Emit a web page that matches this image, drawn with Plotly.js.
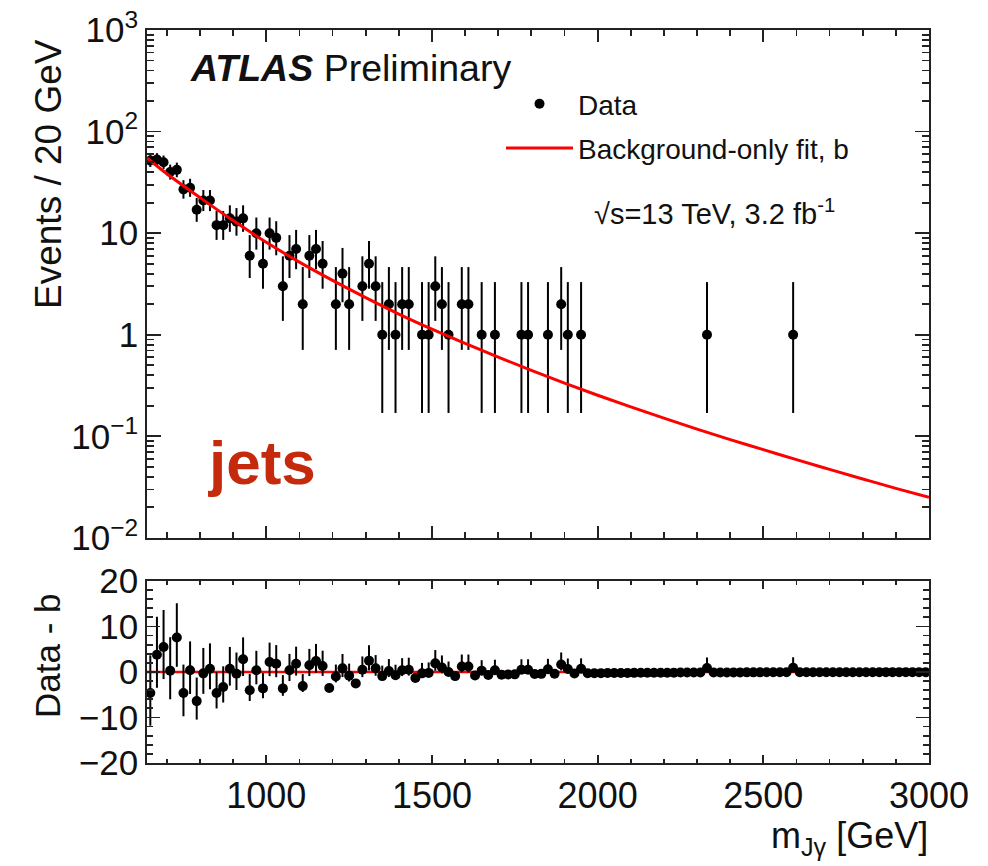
<!DOCTYPE html>
<html><head><meta charset="utf-8">
<script src="https://cdn.plot.ly/plotly-3.0.1.min.js"></script>
<style>body{margin:0;background:#fff}#chart{width:988px;height:866px}</style>
</head><body><div id="chart"></div>
<script>
// Bin centres (20 GeV bins, 640 - 3000 GeV)
const binCenters = [650,670,690,710,730,750,770,790,810,830,850,870,890,910,930,950,970,990,
1010,1030,1050,1070,1090,1110,1130,1150,1170,1190,1210,1230,1250,1270,1290,1310,1330,1350,1370,1390,
1410,1430,1450,1470,1490,1510,1530,1550,1570,1590,1610,1630,1650,1670,1690,1710,1730,1750,1770,1790,
1810,1830,1850,1870,1890,1910,1930,1950,1970,1990,2010,2030,2050,2070,2090,2110,2130,2150,2170,2190,
2210,2230,2250,2270,2290,2310,2330,2350,2370,2390,2410,2430,2450,2470,2490,2510,2530,2550,2570,2590,
2610,2630,2650,2670,2690,2710,2730,2750,2770,2790,2810,2830,2850,2870,2890,2910,2930,2950,2970,2990];

// Observed events per bin
const counts = [52,53,50,40,42,27,28,17,21,21,12,12,14,13,14,6,10,5,
10,9,3,6,7,2,6,7,5,0,2,4,2,0,3,5,3,1,2,1,
2,2,0,1,1,3,2,1,0,2,2,0,1,0,1,0,0,0,1,1,
0,0,1,0,2,1,0,1,0,0,0,0,0,0,0,0,0,0,0,0,
0,0,0,0,0,0,1,0,0,0,0,0,0,0,0,0,0,0,0,1,
0,0,0,0,0,0,0,0,0,0,0,0,0,0,0,0,0,0,0,0];

// Data - b per bin (lower panel)
const residuals = [-4.6,3.8,5.5,0.3,7.6,-4.6,0.4,-6.4,-0.3,0.7,-4.6,-3.3,0.7,-0.4,2.8,-4.0,0.4,-3.6,
2.2,1.8,-3.6,0.4,1.8,-3.1,1.5,2.4,1.3,-3.5,-1.0,0.8,-0.8,-2.5,0.5,2.5,0.8,-0.9,0.2,-0.7,
0.4,0.5,-1.3,-0.3,-0.2,1.9,1.0,0.0,-0.9,1.2,1.2,-0.75,0.3,-0.66,0.4,-0.58,-0.55,-0.52,0.5,0.5,
-0.43,-0.41,0.6,-0.37,1.65,0.67,-0.31,0.7,-0.28,-0.26,-0.25,-0.23,-0.22,-0.21,-0.20,-0.19,-0.18,-0.17,-0.16,-0.16,
-0.15,-0.14,-0.13,-0.13,-0.12,-0.12,0.89,-0.11,-0.10,-0.10,-0.09,-0.09,-0.08,-0.08,-0.08,-0.07,-0.07,-0.07,-0.06,0.94,
-0.06,-0.06,-0.05,-0.05,-0.05,-0.05,-0.04,-0.04,-0.04,-0.04,-0.04,-0.04,-0.03,-0.03,-0.03,-0.03,-0.03,-0.03,-0.03,-0.03];

// Poisson (Garwood) interval half-widths by observed count
const countLevels = [1,2,3,4,5,6,7,9,10,12,13,14,17,21,27,28,40,42,50,52,53];
const errUpLevels = [2.30,2.64,2.92,3.16,3.38,3.58,3.77,4.11,4.26,4.55,4.68,4.81,5.18,5.59,6.23,6.32,7.35,7.51,8.13,8.27,8.34];
const errDnLevels = [0.83,1.29,1.63,1.91,2.16,2.38,2.58,2.94,3.11,3.41,3.55,3.69,4.06,4.50,5.13,5.23,6.30,6.46,7.06,7.20,7.27];

// Background-only fit
const fitMass = [640,700,800,900,1000,1100,1200,1300,1400,1500,1600,1700,1800,1900,2000,2100,2200,2300,2400,2500,2600,2700,2800,2900,3000];
const fitValues = [55.0,38.5,22.4,13.3,8.13,5.19,3.43,2.32,1.60,1.135,0.822,0.603,0.447,0.335,0.254,0.195,0.151,0.118,0.093,0.074,0.059,0.0473,0.0381,0.0308,0.0251];

const yTickVals = [0.01,0.1,1,10,100,1000];
const yTickText = ['10<sup>−2</sup>','10<sup>−1</sup>','1','10','10<sup>2</sup>','10<sup>3</sup>'];
const ratioTickVals = [-20,-10,0,10,20];

function errUp(n){ const i = countLevels.indexOf(n); return i < 0 ? 0 : errUpLevels[i]; }
function errDn(n){ const i = countLevels.indexOf(n); return i < 0 ? 0 : errDnLevels[i]; }

const nzIdx = binCenters.map((_, i) => i).filter(i => counts[i] > 0);
const FONT = 'Liberation Sans, Arial, Helvetica, sans-serif';
const INK = '#222';

const traces = [
  { x: nzIdx.map(i => binCenters[i]), y: nzIdx.map(i => counts[i]),
    type: 'scatter', mode: 'markers', name: 'Data', xaxis: 'x', yaxis: 'y',
    marker: { color: 'black', size: 10 }, legendrank: 1, legendgroup: 'd',
    error_y: { type: 'data', symmetric: false, array: nzIdx.map(i => errUp(counts[i])),
               arrayminus: nzIdx.map(i => errDn(counts[i])), color: 'black', thickness: 2, width: 0 } },
  { x: fitMass, y: fitValues, type: 'scatter', mode: 'lines', name: 'Background-only fit, b',
    xaxis: 'x', yaxis: 'y', line: { color: '#ff0000', width: 3, shape: 'spline' }, legendrank: 2, legendgroup: 'f' },
  { x: fitMass, y: fitMass.map(() => 0), type: 'scatter', mode: 'lines', showlegend: false,
    xaxis: 'x2', yaxis: 'y2', line: { color: '#ff0000', width: 2.5 } },
  { x: binCenters, y: residuals, type: 'scatter', mode: 'markers', showlegend: false,
    xaxis: 'x2', yaxis: 'y2', marker: { color: 'black', size: 10 },
    error_y: { type: 'data', symmetric: false, array: counts.map(errUp), arrayminus: counts.map(errDn),
               color: 'black', thickness: 2, width: 0 } }
];

const frame = { showline: true, linecolor: INK, linewidth: 1.8, mirror: 'allticks', ticks: 'inside',
  tickcolor: INK, tickwidth: 1.8, showgrid: false, zeroline: false };

const layout = {
  width: 988, height: 866, paper_bgcolor: '#fff', plot_bgcolor: '#fff',
  margin: { l: 147, r: 59, t: 30, b: 103 },
  font: { family: FONT, color: '#111', size: 34 },
  showlegend: true,
  legend: { x: 0.4527, y: 0.9332, xanchor: 'left', yanchor: 'top', font: { size: 28, family: FONT },
            itemwidth: 67, bgcolor: 'rgba(0,0,0,0)', tracegroupgap: 5, traceorder: 'grouped' },
  xaxis: Object.assign({}, frame, { domain: [0, 1], anchor: 'y', range: [640, 3000], tickmode: 'linear',
    tick0: 0, dtick: 500, ticklen: 12, showticklabels: false,
    minor: { ticks: 'inside', dtick: 100, tick0: 0, ticklen: 6, tickcolor: INK, tickwidth: 1.8, showgrid: false } }),
  yaxis: Object.assign({}, frame, { domain: [0.307, 1], anchor: 'x', type: 'log', range: [-2, 3],
    tickmode: 'array', tickvals: yTickVals, ticktext: yTickText, ticklen: 14, ticklabelstandoff: 0,
    tickfont: { size: 35 },
    minor: { ticks: 'inside', dtick: 'D1', ticklen: 7, tickcolor: INK, tickwidth: 1.8, showgrid: false } }),
  xaxis2: Object.assign({}, frame, { domain: [0, 1], anchor: 'y2', matches: 'x', range: [640, 3000],
    tickmode: 'linear', tick0: 0, dtick: 500, ticklen: 8, tickfont: { size: 36 }, ticklabelstandoff: 0,
    minor: { ticks: 'inside', dtick: 100, tick0: 0, ticklen: 4, tickcolor: INK, tickwidth: 1.8, showgrid: false } }),
  yaxis2: Object.assign({}, frame, { domain: [0, 0.2483], anchor: 'x2', range: [-20, 20],
    tickmode: 'array', tickvals: ratioTickVals, ticklen: 13, ticklabelstandoff: 0, tickfont: { size: 35 },
    minor: { ticks: 'inside', dtick: 2, ticklen: 6, tickcolor: INK, tickwidth: 1.8, showgrid: false } }),
  annotations: [
    { xref: 'paper', yref: 'paper', x: 0.0524, y: 0.948, xanchor: 'left', yanchor: 'middle', showarrow: false,
      text: '<b><i>ATLAS</i></b> Preliminary', font: { size: 37.5, family: FONT, color: '#111' } },
    { xref: 'paper', yref: 'paper', x: 0.569, y: 0.7517, xanchor: 'left', yanchor: 'middle', showarrow: false,
      text: '√s=13 TeV, 3.2 fb<sup>-1</sup>', font: { size: 29, family: FONT, color: '#111' } },
    { xref: 'paper', yref: 'paper', x: 0.076, y: 0.41, xanchor: 'left', yanchor: 'middle', showarrow: false,
      text: '<b>jets</b>', font: { size: 62, family: FONT, color: '#c62a0c' } },
    { xref: 'paper', yref: 'paper', x: -0.1253, y: 0.8036, xanchor: 'center', yanchor: 'middle', showarrow: false,
      textangle: -90, text: 'Events / 20 GeV', font: { size: 37, family: FONT, color: '#111' } },
    { xref: 'paper', yref: 'paper', x: -0.1279, y: 0.1473, xanchor: 'center', yanchor: 'middle', showarrow: false,
      textangle: -90, text: 'Data - b', font: { size: 35, family: FONT, color: '#111' } },
    { xref: 'paper', yref: 'paper', x: 1.0013, y: -0.1023, xanchor: 'right', yanchor: 'middle', showarrow: false,
      text: 'm<sub>Jγ</sub> [GeV]', font: { size: 36, family: FONT, color: '#111' } }
  ]
};

Plotly.newPlot('chart', traces, layout, { staticPlot: true, displayModeBar: false });
</script></body></html>
